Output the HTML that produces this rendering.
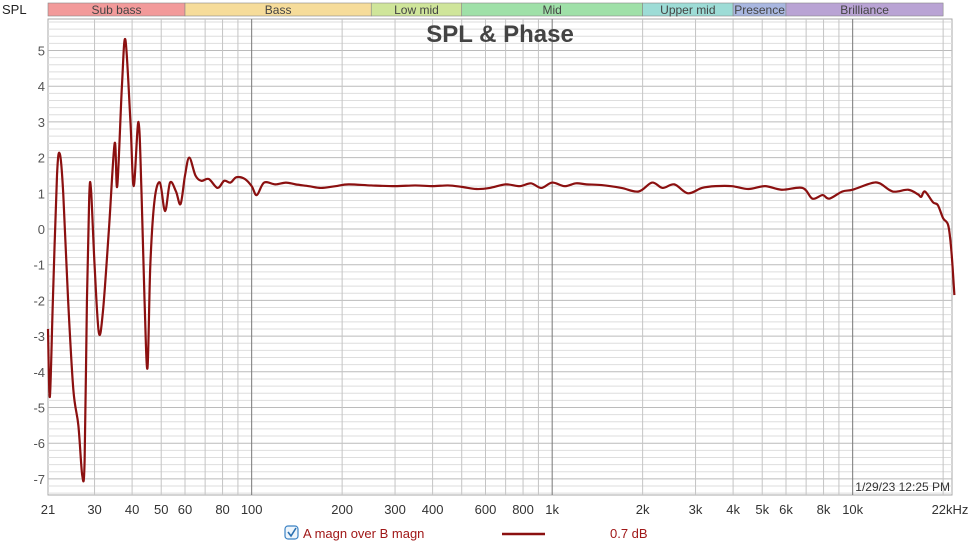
<!DOCTYPE html>
<html><head><meta charset="utf-8"><style>
body{margin:0;background:#fff;width:976px;height:552px;overflow:hidden;font-family:"Liberation Sans",sans-serif}
svg text{font-family:"Liberation Sans",sans-serif}
</style></head><body>
<svg id="chart" width="976" height="552" xmlns="http://www.w3.org/2000/svg">
<g id="bands"></g><g id="grid"></g><g id="labels"></g><g id="series"></g>
<text x="500" y="42" text-anchor="middle" font-size="24" font-weight="bold" fill="#444">SPL &amp; Phase</text>
<text x="2" y="14" font-size="13" fill="#222">SPL</text>
<text x="950" y="491" text-anchor="end" font-size="12" fill="#333">1/29/23 12:25 PM</text>
<g>
<rect x="285" y="526" width="13" height="13" rx="3" fill="#eef5fb" stroke="#3b82c4" stroke-width="1.2"/>
<path d="M288 532 l3 4 l5 -8" fill="none" stroke="#2a6fb0" stroke-width="1.6"/>
<text x="303" y="538" font-size="13" fill="#a01818">A magn over B magn</text>
<line x1="502" y1="534" x2="545" y2="534" stroke="#8b1010" stroke-width="2.5"/>
<text x="610" y="538" font-size="13" fill="#a01818">0.7 dB</text>
</g>
</svg>
<script>
const freqs=[21,21.3,21.8,22.5,23,23.6,24.5,25.5,26.5,27.3,27.8,28.3,28.8,29.2,30,31,32,33.5,35,35.7,37,38,39.5,40.5,42,43,44,45,46,47.5,49.5,51.5,53.5,56,58,60,62,65,68,72,77,81,85,89,95,100,104,110,120,130,140,155,170,190,210,250,300,350,400,450,500,560,620,700,780,850,920,1000,1100,1200,1300,1460,1700,1940,2150,2330,2550,2830,3150,3500,3970,4500,5110,5800,6810,7350,7940,8360,9240,10000,11500,12300,13600,15300,16500,16900,17400,18500,19200,20000,20800,21300,21800];
const values=[-2.8,-4.7,-2,1.5,2.1,1.0,-2,-4.5,-5.5,-6.9,-6.5,-2,0.9,1.1,-1,-2.9,-2.3,0,2.4,1.2,4,5.3,3,1.2,3.0,1,-2,-3.9,-1,0.8,1.3,0.5,1.3,1.05,0.7,1.5,2.0,1.5,1.35,1.4,1.15,1.35,1.3,1.45,1.4,1.2,0.95,1.3,1.25,1.3,1.25,1.2,1.15,1.2,1.25,1.22,1.2,1.22,1.2,1.22,1.18,1.12,1.15,1.25,1.2,1.28,1.15,1.3,1.2,1.28,1.25,1.23,1.15,1.05,1.3,1.15,1.25,1.0,1.15,1.2,1.2,1.12,1.2,1.1,1.15,0.85,0.95,0.85,1.05,1.1,1.28,1.28,1.05,1.1,0.97,0.9,1.05,0.75,0.67,0.3,0.1,-0.6,-1.85];
const yTicks=[5,4,3,2,1,0,-1,-2,-3,-4,-5,-6,-7];
const xTicks=[21,30,40,50,60,80,100,200,300,400,600,800,1000,2000,3000,4000,5000,6000,8000,10000,22000];
const xTickLabels=["21","30","40","50","60","80","100","200","300","400","600","800","1k","2k","3k","4k","5k","6k","8k","10k","22kHz"];
const bandNames=["Sub bass","Bass","Low mid","Mid","Upper mid","Presence","Brilliance"];
const bandEdges=[21,60,250,500,2000,4000,6000,20000];
const bandColors=["#f29a9a","#f6dc9a","#cfe59a","#9fe0a8","#9ddcd6","#a9b7e0","#b9a3d4"];
const L=48,R=952,T=19,B=495;
const X=f=>L+Math.log10(f/21)*300.5;
const Y=v=>229-v*35.7;
const NS="http://www.w3.org/2000/svg";
function mk(tag,attrs,parent,txt){const e=document.createElementNS(NS,tag);for(const k in attrs)e.setAttribute(k,attrs[k]);if(txt!==undefined)e.textContent=txt;parent.appendChild(e);return e;}
const bands=document.getElementById('bands'),grid=document.getElementById('grid'),labels=document.getElementById('labels'),series=document.getElementById('series');
for(let i=0;i<bandNames.length;i++){
  const x1=X(bandEdges[i]),x2=X(bandEdges[i+1]);
  const r=mk('rect',{x:x1,y:3,width:x2-x1,height:13,fill:bandColors[i],stroke:'#888','stroke-width':0.6},bands);
  
  
  const t=mk('text',{x:(x1+x2)/2,y:14,'text-anchor':'middle','font-size':12,fill:'#444'},bands,bandNames[i]);
  
  
}
mk('rect',{x:L,y:T,width:R-L,height:B-T,fill:'#fff',stroke:'#aaa'},grid);
for(let k=-37;k<=29;k++){const v=k*0.2;const y=Y(v);if(y<T||y>B)continue;const major=Math.abs(v-Math.round(v))<1e-6;
  const l=mk('line',{x1:L,x2:R,y1:y,y2:y,stroke:major?'#bbb':'#dedede','stroke-width':1},grid);
  
  }
for(const d of [10,100,1000,10000]){for(let m=1;m<10;m++){const f=d*m;if(f<=21||f>=22000)continue;const x=X(f);
  const dark=(m==1&&d>=100);
  const l=mk('line',{x1:x,x2:x,y1:T,y2:B,stroke:dark?'#777':'#c4c4c4','stroke-width':1},grid);
  
  }}
for(const v of yTicks){const t=mk('text',{x:45,y:Y(v)+5,'text-anchor':'end','font-size':13,fill:'#555'},labels,String(v));
  
  }
xTicks.forEach((f,i)=>{let x=X(f);if(i==xTicks.length-1)x=950;
  const t=mk('text',{x:x,y:514,'text-anchor':'middle','font-size':13,fill:'#333'},labels,xTickLabels[i]);
  
  });
const pts=freqs.map((f,i)=>[X(f),Y(values[i])]);
let d='M'+pts[0][0]+' '+pts[0][1];
for(let i=0;i<pts.length-1;i++){const p0=pts[Math.max(0,i-1)],p1=pts[i],p2=pts[i+1],p3=pts[Math.min(pts.length-1,i+2)];
  d+=' C'+(p1[0]+(p2[0]-p0[0])/6)+' '+(p1[1]+(p2[1]-p0[1])/6)+' '+(p2[0]-(p3[0]-p1[0])/6)+' '+(p2[1]-(p3[1]-p1[1])/6)+' '+p2[0]+' '+p2[1];}
const path=mk('path',{d:d,fill:'none',stroke:'#8b1010','stroke-width':2.2,'stroke-linejoin':'round'},series);


</script>
</body></html>
